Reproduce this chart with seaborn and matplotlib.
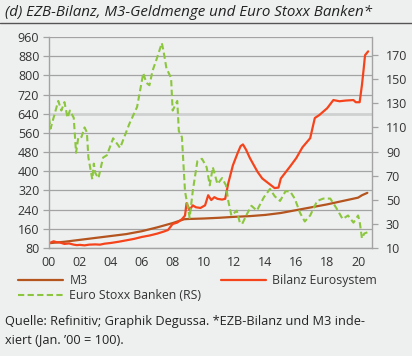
import matplotlib.pyplot as plt
import pandas as pd
import seaborn as sns

# M3, indexed Jan 2000 = 100 (left axis)
m3_years = [2000.0, 2001.0, 2002.0, 2003.0, 2004.0, 2005.0, 2006.0, 2007.0, 2008.0, 2008.75,
            2009.0, 2010.0, 2011.0, 2012.0, 2013.0, 2014.0, 2015.0, 2016.0, 2017.0, 2018.0,
            2019.0, 2020.0, 2020.25, 2020.6]
m3_values = [100, 106, 114, 122, 130, 138, 150, 166, 184, 200,
             201, 203, 206, 210, 213, 218, 226, 238, 250, 262,
             276, 290, 300, 310]

# ECB balance sheet, indexed Jan 2000 = 100 (left axis)
bilanz_years = [2000.0, 2000.3, 2000.5, 2000.7, 2001.0, 2001.3, 2001.6, 2001.8, 2002.0, 2002.3,
                2002.6, 2003.0, 2003.3, 2003.6, 2004.0, 2004.5, 2005.0, 2005.5, 2006.0, 2006.5,
                2007.0, 2007.4, 2007.7, 2008.0, 2008.3, 2008.6, 2008.8, 2008.9, 2009.1, 2009.3,
                2009.5, 2009.8, 2010.1, 2010.3, 2010.5, 2010.7, 2010.9, 2011.2, 2011.4, 2011.6,
                2011.9, 2012.2, 2012.4, 2012.55, 2012.75, 2013.0, 2013.3, 2013.5, 2013.8, 2014.1,
                2014.4, 2014.6, 2014.85, 2015.0, 2015.3, 2015.6, 2016.0, 2016.4, 2016.9, 2017.2,
                2017.5, 2018.0, 2018.4, 2018.8, 2019.2, 2019.7, 2019.85, 2020.1, 2020.25, 2020.35,
                2020.45, 2020.65]
bilanz_values = [100, 108, 104, 103, 97, 99, 94, 92, 93, 91,
                 94, 95, 94, 98, 101, 106, 112, 118, 126, 132,
                 140, 148, 155, 180, 186, 200, 215, 267, 238, 258,
                 250, 247, 258, 300, 280, 292, 285, 282, 285, 350,
                 425, 475, 505, 512, 490, 455, 420, 397, 370, 355,
                 340, 330, 332, 370, 395, 420, 455, 500, 538, 622,
                 635, 663, 697, 692, 695, 697, 688, 688, 760, 820,
                 884, 900]

# Euro Stoxx Banks (right axis)
stoxx_years = [2000.0, 2000.1, 2000.6, 2000.8, 2001.0, 2001.2, 2001.35, 2001.6, 2001.75, 2001.9,
               2002.1, 2002.3, 2002.45, 2002.55, 2002.8, 2002.9, 2003.0, 2003.2, 2003.5, 2003.75,
               2004.15, 2004.6, 2005.2, 2005.7, 2006.1, 2006.3, 2006.5, 2006.7, 2007.0, 2007.3,
               2007.4, 2007.6, 2007.9, 2008.0, 2008.3, 2008.4, 2008.6, 2008.8, 2009.0, 2009.1,
               2009.3, 2009.6, 2009.9, 2010.2, 2010.4, 2010.6, 2010.9, 2011.2, 2011.45, 2011.6,
               2011.8, 2012.15, 2012.35, 2012.5, 2012.8, 2013.1, 2013.45, 2013.9, 2014.3, 2014.6,
               2014.95, 2015.3, 2015.6, 2015.9, 2016.25, 2016.55, 2016.9, 2017.35, 2017.75, 2018.2,
               2018.6, 2019.0, 2019.35, 2019.7, 2020.0, 2020.1, 2020.25, 2020.4, 2020.6]
stoxx_values = [118, 109, 132, 124, 131, 118, 124, 118, 89, 102,
                102, 110, 106, 85, 67, 80, 72, 68, 85, 87,
                101, 93, 113, 127, 155, 147, 145, 157, 168, 180,
                174, 159, 151, 124, 132, 107, 102, 57, 43, 35,
                57, 82, 84, 77, 62, 77, 63, 68, 62, 49,
                37, 41, 31, 30, 38, 45, 41, 52, 59, 53,
                49, 57, 57, 51, 39, 32, 37, 49, 51, 51,
                43, 34, 37, 31, 37, 32, 18, 22, 23]

left_ticks = list(range(80, 961, 80))
right_ticks = list(range(10, 171, 20))
year_ticks = list(range(2000, 2021, 2))
year_labels = [f"{y % 100:02d}" for y in year_ticks]

bg = "#eef0ef"
col_m3 = "#b4541e"
col_bilanz = "#f5441c"
col_stoxx = "#8cc63f"
grid_col = "#a3a3a3"

sns.set_theme(style="white")
plt.rcParams["font.family"] = ["Open Sans", "DejaVu Sans"]

fig = plt.figure(figsize=(4.12, 3.56), dpi=100, facecolor=bg)
ax = fig.add_axes([49 / 412, 1 - 248 / 356, (372 - 49) / 412, (248 - 37) / 356])
ax.set_facecolor(bg)
ax2 = ax.twinx()

df_m3 = pd.DataFrame({"year": m3_years, "value": m3_values})
df_bil = pd.DataFrame({"year": bilanz_years, "value": bilanz_values})
df_stx = pd.DataFrame({"year": stoxx_years, "value": stoxx_values})

for t in left_ticks:
    if t == 640:
        ax.axhline(t, color="#cfd1d0", lw=2.0, zorder=0)
    else:
        ax.axhline(t, color=grid_col, lw=0.9, zorder=0)

sns.lineplot(data=df_m3, x="year", y="value", ax=ax, color=col_m3, lw=1.6, label="M3", legend=False)
sns.lineplot(data=df_bil, x="year", y="value", ax=ax, color=col_bilanz, lw=1.6,
             label="Bilanz Eurosystem", legend=False)
sns.lineplot(data=df_stx, x="year", y="value", ax=ax2, color=col_stoxx, lw=1.5,
             linestyle=(0, (3, 1.6)), label="Euro Stoxx Banken (RS)", legend=False)

ax.set_xlim(2000, 2020.9)
ax.set_ylim(80, 960)
ax2.set_ylim(10, 185)
ax.set_xticks(year_ticks)
ax.set_xticklabels(year_labels)
ax.set_yticks(left_ticks)
ax2.set_yticks(right_ticks)
ax.set_xlabel("")
ax.set_ylabel("")
ax2.set_ylabel("")

for a in (ax, ax2):
    for s in a.spines.values():
        s.set_visible(False)
    a.tick_params(colors=grid_col, labelcolor="#333333", labelsize=9, length=4, width=0.9)
ax.spines["left"].set_visible(True)
ax.spines["bottom"].set_visible(True)
ax2.spines["right"].set_visible(True)
for s in (ax.spines["left"], ax.spines["bottom"], ax2.spines["right"]):
    s.set_color(grid_col)
    s.set_linewidth(1.0)
ax.tick_params(axis="x", length=3, pad=3)
ax.tick_params(axis="y", left=True, pad=3)
ax2.tick_params(axis="y", right=True, pad=6)
ax.set_zorder(1)
ax2.set_zorder(2)
ax2.patch.set_visible(False)

# title and rule
fig.text(5 / 412, 1 - 12 / 356, "(d) EZB-Bilanz, M3-Geldmenge und Euro Stoxx Banken*",
         fontsize=10.9, style="italic", color="#222222", va="center", ha="left")
fig.add_artist(plt.Line2D([0, 1], [1 - 22.5 / 356] * 2, color="#555555", lw=1.0))

h1, l1 = ax.get_legend_handles_labels()
h2, l2 = ax2.get_legend_handles_labels()
handles = [h1[0], h2[0], h1[1]]
labels = [l1[0], l2[0], l1[1]]
fig.legend(handles, labels, loc="upper left", bbox_to_anchor=(18 / 412, 1 - 274 / 356),
           ncol=2, frameon=False, fontsize=8.8, handlelength=3.7, handletextpad=0.5,
           columnspacing=1.6, labelspacing=0.2, borderaxespad=0, borderpad=0,
           labelcolor="#333333")

fig.text(5 / 412, 1 - 322 / 356, "Quelle: Refinitiv; Graphik Degussa. *EZB-Bilanz und M3 inde-",
         fontsize=9.2, color="#222222", va="center", ha="left")
fig.text(5 / 412, 1 - 340 / 356, "xiert (Jan. \u201900 = 100).",
         fontsize=9.2, color="#222222", va="center", ha="left")

fig.savefig("out.png", dpi=100, facecolor=bg)
